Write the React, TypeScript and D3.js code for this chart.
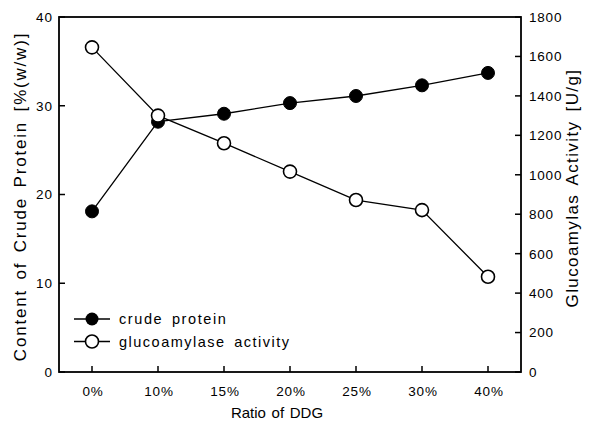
import React from 'react';
import * as d3 from 'd3';

// Ratio of DDG vs crude protein content and glucoamylase activity
const categories = ['0%', '10%', '15%', '20%', '25%', '30%', '40%'];
const crudeProtein = [18.1, 28.2, 29.1, 30.3, 31.1, 32.3, 33.7];
const glucoamylase = [1646, 1300, 1160, 1016, 872, 821, 483];
const leftTicks = [0, 10, 20, 30, 40];
const rightTicks = [0, 200, 400, 600, 800, 1000, 1200, 1400, 1600, 1800];

const W = 591;
const H = 432;
const margin = { left: 59, right: 70, top: 17, bottom: 60 };
const FONT = '"Liberation Sans", Arial, Helvetica, sans-serif';

export default function App() {
  const x0 = margin.left;
  const x1 = W - margin.right;
  const y0 = H - margin.bottom;
  const y1 = margin.top;

  const x = d3.scalePoint<string>().domain(categories).range([x0, x1]).padding(0.5);
  const yL = d3.scaleLinear().domain([0, 40]).range([y0, y1]);
  const yR = d3.scaleLinear().domain([0, 1800]).range([y0, y1]);

  const lineL = d3
    .line<number>()
    .x((_, i) => x(categories[i]) as number)
    .y((d) => yL(d));
  const lineR = d3
    .line<number>()
    .x((_, i) => x(categories[i]) as number)
    .y((d) => yR(d));

  const tick = 6;
  const r = 6.5;

  return (
    <svg
      width={W}
      height={H}
      style={{ position: 'absolute', left: 0, top: 0, background: '#fff', fontFamily: FONT }}
    >
      {/* frame */}
      <rect x={x0} y={y1} width={x1 - x0} height={y0 - y1} fill="none" stroke="#000" strokeWidth={1.8} />

      {/* left axis */}
      {leftTicks.map((t) => (
        <g key={'l' + t}>
          <line x1={x0} x2={x0 + tick} y1={yL(t)} y2={yL(t)} stroke="#000" strokeWidth={1.5} />
          <text x={x0 - 6} y={yL(t)} dy="0.36em" textAnchor="end" fontSize={13.5} letterSpacing={1}>
            {t}
          </text>
        </g>
      ))}

      {/* right axis */}
      {rightTicks.map((t) => (
        <g key={'r' + t}>
          <line x1={x1 - tick} x2={x1} y1={yR(t)} y2={yR(t)} stroke="#000" strokeWidth={1.5} />
          <text x={x1 + 8} y={yR(t)} dy="0.36em" textAnchor="start" fontSize={13.5} letterSpacing={0.8}>
            {t}
          </text>
        </g>
      ))}

      {/* bottom axis */}
      {categories.map((c) => (
        <g key={'b' + c}>
          <line x1={x(c)} x2={x(c)} y1={y0} y2={y0 - tick} stroke="#000" strokeWidth={1.5} />
          <text x={(x(c) as number) + 1} y={396} textAnchor="middle" fontSize={13.5} letterSpacing={0.8}>
            {c}
          </text>
        </g>
      ))}

      {/* axis titles */}
      <text x={277} y={418} textAnchor="middle" fontSize={15} wordSpacing={1.5}>
        Ratio of DDG
      </text>
      <text
        transform={`translate(26,${(y0 + y1) / 2 + 2}) rotate(-90)`}
        textAnchor="middle"
        fontSize={17}
        letterSpacing={1.8}
        wordSpacing={3}
      >
        Content of Crude Protein [%(w/w)]
      </text>
      <text
        transform={`translate(578,188) rotate(-90)`}
        textAnchor="middle"
        fontSize={17}
        letterSpacing={1.4}
        wordSpacing={3}
      >
        Glucoamylas Activity [U/g]
      </text>

      {/* crude protein series */}
      <path d={lineL(crudeProtein) || ''} fill="none" stroke="#000" strokeWidth={1.3} />
      {crudeProtein.map((v, i) => (
        <circle key={'cp' + i} cx={x(categories[i])} cy={yL(v)} r={r} fill="#000" stroke="#000" strokeWidth={1} />
      ))}

      {/* glucoamylase series */}
      <path d={lineR(glucoamylase) || ''} fill="none" stroke="#000" strokeWidth={1.3} />
      {glucoamylase.map((v, i) => (
        <circle key={'ga' + i} cx={x(categories[i])} cy={yR(v)} r={r} fill="#fff" stroke="#000" strokeWidth={1.6} />
      ))}

      {/* legend */}
      <g>
        <line x1={74} x2={110} y1={319} y2={319} stroke="#000" strokeWidth={1.3} />
        <circle cx={92} cy={319} r={r} fill="#000" />
        <text x={119} y={319} dy="0.36em" fontSize={14.5} letterSpacing={1.6} wordSpacing={3}>
          crude protein
        </text>
        <line x1={74} x2={110} y1={341.5} y2={341.5} stroke="#000" strokeWidth={1.3} />
        <circle cx={92} cy={341.5} r={r} fill="#fff" stroke="#000" strokeWidth={1.6} />
        <text x={119} y={341.5} dy="0.36em" fontSize={14.5} letterSpacing={1.5} wordSpacing={3}>
          glucoamylase activity
        </text>
      </g>
    </svg>
  );
}
